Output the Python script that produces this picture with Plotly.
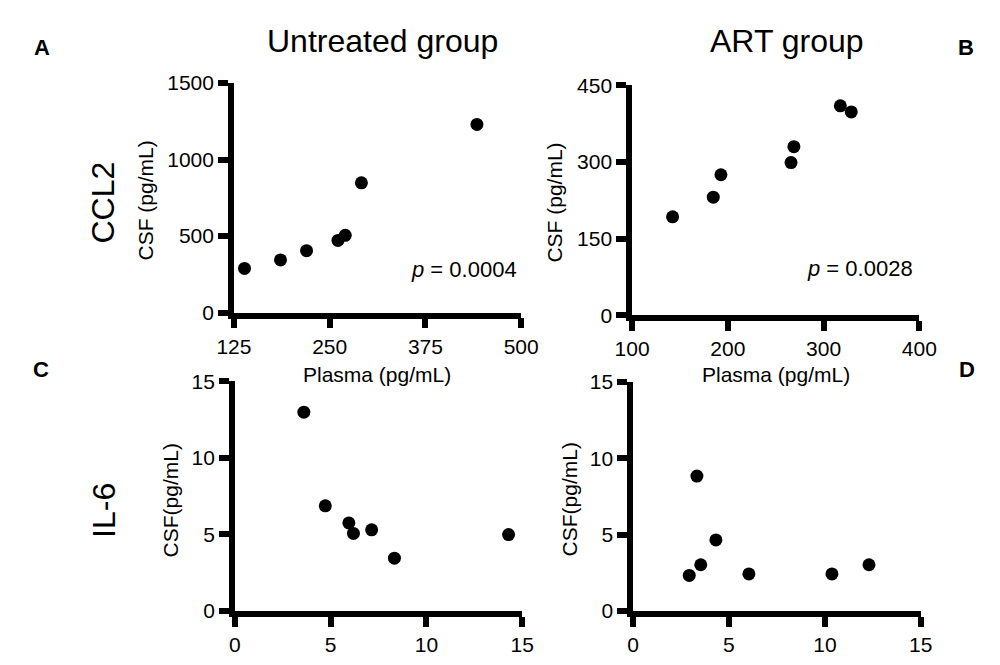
import plotly.graph_objects as go

# ---- data ----
a_plasma = [138.8, 185.8, 219.8, 260.8, 270.3, 291.4, 442.2]
a_csf = [289, 345, 405, 472, 505, 848, 1229]
b_plasma = [142.3, 184.8, 192.8, 266.0, 269.0, 317.5, 328.9]
b_csf = [192.5, 231, 275, 298.7, 330, 410, 398]
c_plasma = [3.6, 4.72, 5.95, 6.19, 7.14, 8.33, 14.29]
c_csf = [12.98, 6.87, 5.75, 5.07, 5.3, 3.45, 4.99]
d_plasma = [2.93, 3.33, 3.53, 4.32, 6.04, 10.37, 12.3]
d_csf = [2.33, 8.83, 3.03, 4.65, 2.43, 2.43, 3.03]

a_xticks = [125, 250, 375, 500]
a_yticks = [0, 500, 1000, 1500]
b_xticks = [100, 200, 300, 400]
b_yticks = [0, 150, 300, 450]
cd_ticks = [0, 5, 10, 15]

W, H = 1000, 665
FONT = "Liberation Sans, Arial, sans-serif"


def px_x(v):
    return v / W


def px_y(v):
    return 1 - v / H


fig = go.Figure()

panels = [
    # (xaxis, yaxis, x data, y data, xdomain px, ydomain px, xrange, yrange, xticks, yticks)
    ("x", "y", a_plasma, a_csf, (224, 522), (73.5, 311.5), [125, 500], [0, 1500], a_xticks, a_yticks),
    ("x2", "y2", b_plasma, b_csf, (637, 935), (76, 314), [100, 400], [0, 450], b_xticks, b_yticks),
    ("x3", "y3", c_plasma, c_csf, (225, 523), (382.5, 620.5), [0, 15], [0, 15], cd_ticks, cd_ticks),
    ("x4", "y4", d_plasma, d_csf, (638, 936.5), (383, 620.5), [0, 15], [0, 15], cd_ticks, cd_ticks),
]

layout_axes = {}
for i, (xa, ya, xd, yd, xdom, ydom, xr, yr, xt, yt) in enumerate(panels):
    fig.add_trace(go.Scatter(
        x=xd, y=yd, mode="markers", xaxis=xa, yaxis=ya,
        marker=dict(color="black", size=13, line=dict(width=0)),
        showlegend=False, hoverinfo="x+y"))
    axis_common = dict(
        showline=True, linewidth=5.5, linecolor="black",
        ticks="outside", ticklen=10, tickwidth=5.5, tickcolor="black",
        showgrid=False, zeroline=False,
        tickfont=dict(family=FONT, size=21, color="black"),
    )
    xkey = "xaxis" if xa == "x" else "xaxis" + xa[1:]
    ykey = "yaxis" if ya == "y" else "yaxis" + ya[1:]
    layout_axes[xkey] = dict(
        axis_common, domain=[px_x(xdom[0]), px_x(xdom[1])], range=xr,
        tickvals=xt, ticktext=[str(t) for t in xt], anchor=ya)
    layout_axes[ykey] = dict(
        axis_common, domain=[px_y(ydom[1]), px_y(ydom[0])], range=yr,
        tickvals=yt, ticktext=[str(t) for t in yt], anchor=xa)

fig.update_layout(**layout_axes)

annotations = []


def txt(text, x, y, size, bold=False, angle=0):
    annotations.append(dict(
        text=("<b>%s</b>" % text) if bold else text,
        x=px_x(x), y=px_y(y), xref="paper", yref="paper",
        xanchor="center", yanchor="middle", showarrow=False, textangle=angle,
        font=dict(family=FONT, size=size, color="black")))


txt("Untreated group", 378, 30, 32)
txt("ART group", 798, 30, 32)
txt("A", 25, 37, 22, bold=True)
txt("B", 983.5, 37, 22, bold=True)
txt("C", 24, 370, 22, bold=True)
txt("D", 984, 370, 22, bold=True)
txt("CCL2", 88.5, 197, 32, angle=-90)
txt("IL-6", 89, 516, 32, angle=-90)
txt("CSF (pg/mL)", 132, 195, 21, angle=-90)
txt("CSF (pg/mL)", 557, 197.5, 21, angle=-90)
txt("CSF(pg/mL)", 158.6, 506, 21, angle=-90)
txt("CSF(pg/mL)", 572.5, 505, 21, angle=-90)
txt("Plasma (pg/mL)", 372, 375, 21)
txt("Plasma (pg/mL)", 786, 375, 21)
txt("<i>p</i> = 0.0004", 463, 267, 22)
txt("<i>p</i> = 0.0028", 873, 266, 22)

fig.update_layout(
    annotations=annotations,
    width=W, height=H,
    margin=dict(l=0, r=0, t=0, b=0),
    paper_bgcolor="white", plot_bgcolor="white",
    showlegend=False,
)

fig.write_html("out.html")
